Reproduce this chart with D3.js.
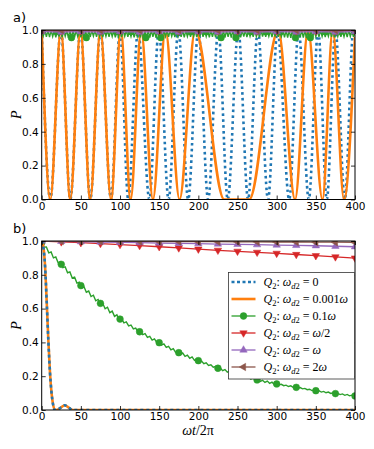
<!DOCTYPE html>
<html>
<head>
<meta charset="utf-8">
<script src="https://cdn.jsdelivr.net/npm/d3@7"></script>
<style>
  body { margin: 0; background: #fff; }
  .tick text { font-family: "DejaVu Sans", sans-serif; font-size: 10.5px; fill: #000; }
  .tick line { stroke: #000; stroke-width: 0.8; }
</style>
</head>
<body>
<div id="root"></div>
<script>
// ---- data ----
var xTicks = [0, 50, 100, 150, 200, 250, 300, 350, 400];
var yTicks = [0, 0.2, 0.4, 0.6, 0.8, 1.0];
var markT = [0, 25, 50, 75, 100, 125, 150, 175, 200, 225, 250, 275, 300, 325, 350, 375, 400];

var labels = ["0", "0.001", "0.1", "/2", "", "2"];
var colors = ["#1f77b4", "#ff7f0e", "#2ca02c", "#d62728", "#9467bd", "#8c564b"];

// panel a: extrema of the two Rabi curves [t, P]
var orangeA = [[0,1],[11,0],[24.5,1],[36.5,0],[49.5,1],[62,0],[75,1],[88.5,0],[101,1],[113.6,0],
  [127,1],[142,0],[158,1],[176,0],[196,1],[233,0],[265,0],[302,1],[323.5,0],[340,1],[358.5,0],
  [371.5,1],[386,0],[400,0.96]];
var blueA = [[0,1],[11,0],[24.5,1],[36.5,0],[49.5,1],[62,0],[75,1],[88.5,0],[100,1],[110.5,0],
  [123,1],[137.5,0],[149.5,1],[162,0],[174.5,1],[187,0],[200,1],[212.5,0],[225.5,1],[237.5,0],
  [251,1],[263.5,0],[276,1],[289,0],[301,1],[316,0],[328,1],[341,0],[353,1],[364,0],[375,1],
  [387,0],[398,1],[400,0.98]];
// green, panel a, sampled every 2 time units
var greenA = [
  1.0,0.965,0.997,0.96,0.998,0.958,0.996,0.962,0.997,0.957,
  0.998,0.961,0.996,0.957,0.998,0.963,0.997,0.955,0.996,0.952,
  0.997,0.958,0.998,0.962,0.996,0.956,0.997,0.953,0.998,0.951,
  0.997,0.96,0.996,0.964,0.998,0.959,0.997,0.962,0.996,0.958,
  0.998,0.963,0.997,0.96,0.996,0.962,0.998,0.957,0.997,0.961,
  0.996,0.958,0.998,0.963,0.997,0.96,0.996,0.962,0.998,0.957,
  0.997,0.961,0.996,0.956,0.998,0.953,0.997,0.951,0.996,0.955,
  0.998,0.959,0.997,0.954,0.996,0.952,0.998,0.957,0.997,0.962,
  0.996,0.96,0.998,0.963,0.997,0.958,0.996,0.962,0.998,0.96,
  0.997,0.957,0.996,0.962,0.998,0.959,0.997,0.963,0.996,0.958,
  0.998,0.961,0.997,0.959,0.996,0.962,0.998,0.957,0.997,0.96,
  0.996,0.956,0.998,0.953,0.997,0.951,0.996,0.955,0.998,0.959,
  0.997,0.955,0.996,0.952,0.998,0.951,0.997,0.956,0.996,0.961,
  0.998,0.958,0.997,0.963,0.996,0.96,0.998,0.962,0.997,0.957,
  0.996,0.961,0.998,0.959,0.997,0.963,0.996,0.958,0.998,0.961,
  0.997,0.96,0.996,0.962,0.998,0.957,0.997,0.955,0.996,0.953,
  0.998,0.951,0.997,0.954,0.996,0.958,0.998,0.955,0.997,0.952,
  0.996,0.951,0.998,0.956,0.997,0.961,0.996,0.959,0.998,0.962,
  0.997,0.958,0.996,0.963,0.998,0.96,0.997,0.957,0.996,0.962,
  0.998,0.959,0.997,0.961,0.996,0.958,0.998,0.962,0.997,0.96,
  0.996];
var greenAMarkT = [0,19,38,57,76,95,114,133,152,171,190,210,229,248,267,286,305,324,343,362,381,400];
var greenAMarkP = [0.99,0.99,0.955,0.955,0.99,0.99,0.99,0.955,0.955,0.99,0.99,0.99,0.955,0.955,0.99,0.99,0.99,0.955,0.955,0.99,0.99,0.99];
var redA    = [0.995,0.994,0.995,0.994,0.995,0.994,0.995,0.994,0.995,0.994,0.995,0.994,0.995,0.994,0.995,0.994,0.995];
var purpleA = [0.99,0.988,0.99,0.988,0.99,0.988,0.99,0.988,0.99,0.988,0.99,0.988,0.99,0.988,0.99,0.988,0.99];
var brownA  = [1.0,0.999,1.0,0.999,1.0,0.999,1.0,0.999,1.0,0.999,1.0,0.999,1.0,0.999,1.0,0.999,1.0];

// panel b
var blueB = [[0,1],[2,0.97],[4.3,0.85],[6.4,0.64],[8.5,0.41],[10.6,0.22],[13.6,0.06],[17,0],[20,0.002],
  [24,0.013],[29.5,0.028],[35,0.012],[40,0],[50,0],[400,0]];
var orangeB = blueB;
// green, panel b, sampled every 3 time units
var greenB = [
  0.99,0.963,0.965,0.930,0.935,0.900,0.906,0.871,0.877,0.842,
  0.847,0.812,0.817,0.781,0.786,0.751,0.756,0.722,0.729,0.697,
  0.704,0.671,0.679,0.646,0.654,0.621,0.630,0.599,0.608,0.576,
  0.585,0.554,0.563,0.532,0.539,0.516,0.521,0.498,0.503,0.480,
  0.485,0.462,0.467,0.446,0.452,0.430,0.436,0.414,0.421,0.399,
  0.405,0.384,0.391,0.370,0.377,0.356,0.363,0.341,0.348,0.328,
  0.337,0.317,0.325,0.306,0.314,0.294,0.303,0.285,0.290,0.274,
  0.279,0.264,0.268,0.253,0.257,0.242,0.248,0.233,0.239,0.224,
  0.230,0.215,0.221,0.207,0.212,0.199,0.205,0.191,0.197,0.183,
  0.189,0.176,0.182,0.169,0.176,0.163,0.171,0.158,0.165,0.152,
  0.159,0.149,0.152,0.144,0.147,0.139,0.143,0.134,0.138,0.129,
  0.133,0.125,0.128,0.120,0.123,0.115,0.119,0.110,0.114,0.106,
  0.110,0.102,0.106,0.098,0.102,0.094,0.098,0.091,0.095,0.087,
  0.092,0.084,0.088,0.081];
var greenBMarks = [0.99,0.862,0.736,0.631,0.538,0.463,0.398,0.339,0.292,0.247,0.210,0.178,0.154,0.134,0.114,0.097,0.083];
var redB    = [1.0,0.995,0.99,0.985,0.979,0.973,0.966,0.959,0.952,0.945,0.939,0.933,0.927,0.92,0.913,0.906,0.899];
var purpleB = [1.0,0.998,0.996,0.994,0.992,0.99,0.988,0.986,0.984,0.982,0.98,0.978,0.976,0.974,0.972,0.969,0.966];
var brownB  = [1.0,1.0,0.999,0.999,0.998,0.998,0.997,0.997,0.996,0.996,0.995,0.995,0.994,0.994,0.993,0.993,0.992];

// ---- layout ----
var width = 374, height = 449;
var left = 41.7, right = 355;

var svg = d3.select("#root").append("svg")
    .attr("width", width)
    .attr("height", height);

var x = d3.scaleLinear().domain([0, 400]).range([left, right]);

var markerShapes = {
  circle: { type: d3.symbolCircle, size: 36, rot: 0 },
  down:   { type: d3.symbolTriangle, size: 24, rot: 180 },
  up:     { type: d3.symbolTriangle, size: 24, rot: 0 },
  leftT:  { type: d3.symbolTriangle, size: 24, rot: -90 }
};

function drawMarkers(g, pts, y, shape, color) {
  var m = markerShapes[shape];
  g.selectAll(null).data(pts).enter().append("path")
    .attr("d", d3.symbol().type(m.type).size(m.size))
    .attr("transform", function (d) { return "translate(" + x(d[0]) + "," + y(d[1]) + ") rotate(" + m.rot + ")"; })
    .attr("fill", color)
    .attr("stroke", color)
    .attr("stroke-width", 0.5);
}

function drawLine(g, pts, y, color, w, dash, curve) {
  var line = d3.line()
    .x(function (d) { return x(d[0]); })
    .y(function (d) { return y(d[1]); })
    .curve(curve || d3.curveLinear);
  g.append("path")
    .datum(pts)
    .attr("d", line)
    .attr("fill", "none")
    .attr("stroke", color)
    .attr("stroke-width", w)
    .attr("stroke-dasharray", dash || null);
}

function zipT(ts, vs) {
  return vs.map(function (v, i) { return [ts[i], v]; });
}

function panel(top, bottom, id) {
  var y = d3.scaleLinear().domain([0, 1]).range([bottom, top]);

  svg.append("clipPath").attr("id", id)
    .append("rect").attr("x", left).attr("y", top)
    .attr("width", right - left).attr("height", bottom - top);

  var g = svg.append("g").attr("clip-path", "url(#" + id + ")");

  // axes with inward ticks on all sides
  svg.append("g").attr("transform", "translate(0," + bottom + ")")
    .call(d3.axisBottom(x).tickValues(xTicks).tickSizeInner(-4).tickSizeOuter(0).tickPadding(3));
  svg.append("g").attr("transform", "translate(0," + top + ")")
    .call(d3.axisTop(x).tickValues(xTicks).tickSizeInner(-4).tickSizeOuter(0).tickFormat(""));
  svg.append("g").attr("transform", "translate(" + left + ",0)")
    .call(d3.axisLeft(y).tickValues(yTicks).tickSizeInner(-4).tickSizeOuter(0).tickPadding(3).tickFormat(d3.format(".1f")));
  svg.append("g").attr("transform", "translate(" + right + ",0)")
    .call(d3.axisRight(y).tickValues(yTicks).tickSizeInner(-4).tickSizeOuter(0).tickFormat(""));
  svg.selectAll(".domain").remove();

  // y label
  svg.append("text")
    .attr("transform", "translate(21," + ((top + bottom) / 2) + ") rotate(-90)")
    .attr("text-anchor", "middle")
    .attr("font-family", "Liberation Serif, serif")
    .attr("font-style", "italic")
    .attr("font-size", 14)
    .text("P");

  return { g: g, y: y, top: top, bottom: bottom };
}

// ---- panel a ----
var pa = panel(30, 199.5, "clipA");
drawLine(pa.g, blueA, pa.y, colors[0], 2.6, "2.6,3.2", d3.curveMonotoneX);
drawLine(pa.g, orangeA, pa.y, colors[1], 2.6, null, d3.curveMonotoneX);
drawLine(pa.g, zipT(d3.range(0, 401, 2), greenA), pa.y, colors[2], 1.4);
drawMarkers(pa.g, zipT(greenAMarkT, greenAMarkP), pa.y, "circle", colors[2]);
drawLine(pa.g, zipT(markT, redA), pa.y, colors[3], 1.3);
drawMarkers(pa.g, zipT(markT, redA), pa.y, "down", colors[3]);
drawLine(pa.g, zipT(markT, purpleA), pa.y, colors[4], 1.3);
drawMarkers(pa.g, zipT(markT, purpleA), pa.y, "up", colors[4]);
drawLine(pa.g, zipT(markT, brownA), pa.y, colors[5], 1.3);
drawMarkers(pa.g, zipT(markT, brownA), pa.y, "leftT", colors[5]);

// ---- panel b ----
var pb = panel(241, 410, "clipB");
drawLine(pb.g, zipT(d3.range(0, 400, 3), greenB), pb.y, colors[2], 1.4);
drawMarkers(pb.g, zipT(markT, greenBMarks), pb.y, "circle", colors[2]);
drawLine(pb.g, zipT(markT, redB), pb.y, colors[3], 1.3);
drawMarkers(pb.g, zipT(markT, redB), pb.y, "down", colors[3]);
drawLine(pb.g, zipT(markT, purpleB), pb.y, colors[4], 1.3);
drawMarkers(pb.g, zipT(markT, purpleB), pb.y, "up", colors[4]);
drawLine(pb.g, zipT(markT, brownB), pb.y, colors[5], 1.3);
drawMarkers(pb.g, zipT(markT, brownB), pb.y, "leftT", colors[5]);
drawLine(pb.g, orangeB, pb.y, colors[1], 2.6, null, d3.curveMonotoneX);
drawLine(pb.g, blueB, pb.y, colors[0], 2.6, "3,3", d3.curveMonotoneX);

// frames
[pa, pb].forEach(function (p) {
  svg.append("rect")
    .attr("x", left).attr("y", p.top)
    .attr("width", right - left).attr("height", p.bottom - p.top)
    .attr("fill", "none").attr("stroke", "#000").attr("stroke-width", 1);
});

// panel letters
svg.append("text").attr("x", 13).attr("y", 22)
  .attr("font-family", "DejaVu Sans, sans-serif").attr("font-size", 13).text("a)");
svg.append("text").attr("x", 13).attr("y", 233)
  .attr("font-family", "DejaVu Sans, sans-serif").attr("font-size", 13).text("b)");

// x label: ωt/2π
var xl = svg.append("text").attr("x", 198).attr("y", 435)
  .attr("text-anchor", "middle")
  .attr("font-family", "Liberation Serif, serif").attr("font-size", 14);
xl.append("tspan").attr("font-style", "italic").text("ωt");
xl.append("tspan").text("/2π");

// ---- legend ----
var lg = svg.append("g").attr("transform", "translate(228.5,272.5)");
lg.append("rect").attr("width", 126).attr("height", 106.5)
  .attr("fill", "#fff").attr("stroke", "#333").attr("stroke-width", 0.8);

var legendStyles = [
  { dash: "3,2.5", w: 2.6, marker: null },
  { dash: null, w: 2.6, marker: null },
  { dash: null, w: 1.3, marker: "circle" },
  { dash: null, w: 1.3, marker: "down" },
  { dash: null, w: 1.3, marker: "up" },
  { dash: null, w: 1.3, marker: "leftT" }
];

labels.forEach(function (lab, i) {
  var yy = 9.5 + i * 17;
  var st = legendStyles[i];
  lg.append("line").attr("x1", 3).attr("x2", 27).attr("y1", yy).attr("y2", yy)
    .attr("stroke", colors[i]).attr("stroke-width", st.w)
    .attr("stroke-dasharray", st.dash);
  if (st.marker) {
    var m = markerShapes[st.marker];
    lg.append("path")
      .attr("d", d3.symbol().type(m.type).size(m.size))
      .attr("transform", "translate(15," + yy + ") rotate(" + m.rot + ")")
      .attr("fill", colors[i]).attr("stroke", colors[i]).attr("stroke-width", 0.5);
  }
  var t = lg.append("text").attr("x", 35).attr("y", yy + 4)
    .attr("font-family", "Liberation Serif, serif").attr("font-size", 12);
  t.append("tspan").attr("font-style", "italic").text("Q");
  t.append("tspan").attr("font-size", 8.5).attr("dy", 2.5).text("2");
  t.append("tspan").attr("dy", -2.5).text(": ");
  t.append("tspan").attr("font-style", "italic").text("ω");
  t.append("tspan").attr("font-size", 8.5).attr("dy", 2.5).attr("font-style", "italic").text("d");
  t.append("tspan").attr("font-size", 8.5).text("2");
  t.append("tspan").attr("dy", -2.5).text(" = ");
  if (i === 0) {
    t.append("tspan").text("0");
  } else if (i === 3) {
    t.append("tspan").attr("font-style", "italic").text("ω");
    t.append("tspan").text("/2");
  } else {
    if (lab) t.append("tspan").text(lab);
    t.append("tspan").attr("font-style", "italic").text("ω");
  }
});
</script>
</body>
</html>
